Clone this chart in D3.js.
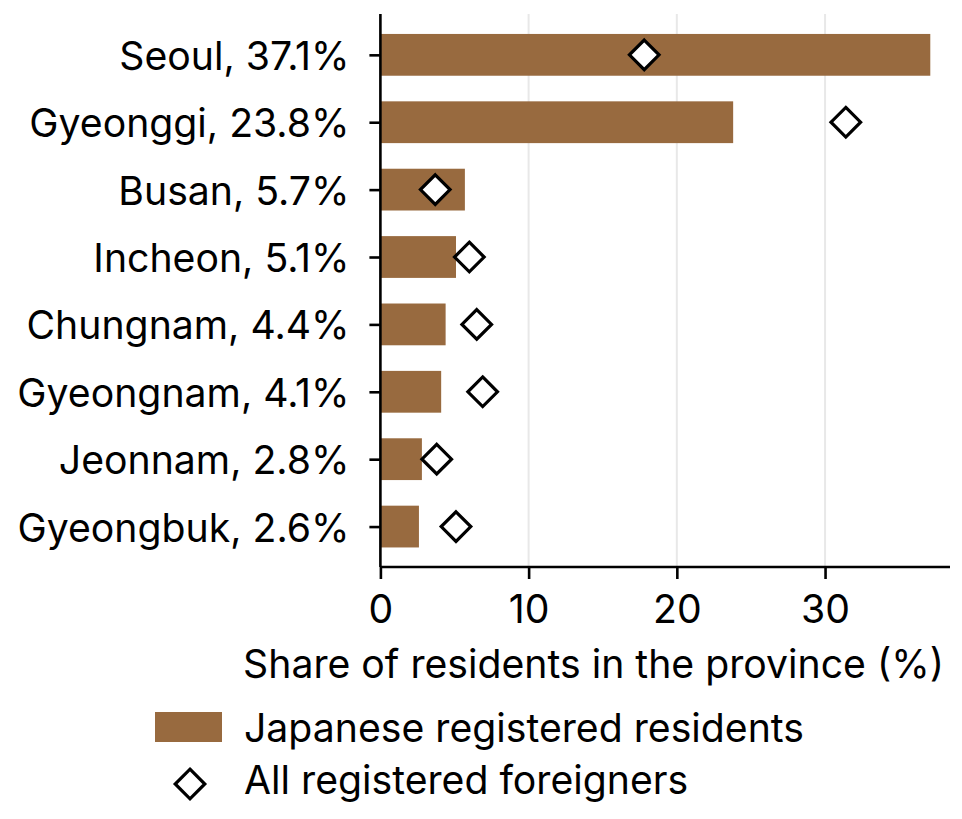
<!DOCTYPE html>
<html><head><meta charset="utf-8">
<script src="https://cdn.jsdelivr.net/npm/d3@7"></script>
<style>
html,body{margin:0;padding:0;background:#fff;}
svg{display:block;}
text{font-family:Inter, "Noto Sans", sans-serif;fill:#000;}
</style></head>
<body><svg id="c" width="962" height="819"></svg>
<script>
const provinces = ["Seoul","Gyeonggi","Busan","Incheon","Chungnam","Gyeongnam","Jeonnam","Gyeongbuk"];
const japaneseShare = [37.1, 23.8, 5.7, 5.1, 4.4, 4.1, 2.8, 2.6];
const foreignerShare = [17.8, 31.4, 3.7, 6.0, 6.5, 6.9, 3.8, 5.1];
const xTicks = [0, 10, 20, 30];
const xLabel = "Share of residents in the province (%)";
const legendLabels = ["Japanese registered residents", "All registered foreigners"];

const barColor = "#986a3f";
const fs = 39.2;
const svg = d3.select("#c");

const x = d3.scaleLinear().domain([0, 38.43]).range([380.4, 950]);
const y = d3.scaleLinear().domain([-0.606, 7.6]).range([14, 567]);
const step = y(1) - y(0);
const barH = step * 0.62;

// grid
svg.append("g").selectAll("line").data(xTicks.filter(d => d > 0)).join("line")
  .attr("x1", d => x(d)).attr("x2", d => x(d))
  .attr("y1", y(-0.606)).attr("y2", y(7.6))
  .attr("stroke", "#e8e8e8").attr("stroke-width", 2);

// bars
svg.append("g").selectAll("rect").data(japaneseShare).join("rect")
  .attr("x", x(0)).attr("y", (d, i) => y(i) - barH / 2)
  .attr("width", d => x(d) - x(0)).attr("height", barH)
  .attr("fill", barColor);

// diamonds
const dsize = 14.8;
const diamond = (cx, cy) => `M${cx},${cy - dsize}L${cx + dsize},${cy}L${cx},${cy + dsize}L${cx - dsize},${cy}Z`;
svg.append("g").selectAll("path").data(foreignerShare).join("path")
  .attr("d", (d, i) => diamond(x(d), y(i)))
  .attr("fill", "#fff").attr("stroke", "#000").attr("stroke-width", 3.2).attr("stroke-linejoin", "miter");

// x axis
const xAxis = d3.axisBottom(x).tickValues(xTicks).tickSize(12).tickFormat(d3.format("d"));
const gx = svg.append("g").attr("transform", `translate(0,${y(7.6)})`).call(xAxis);
gx.select(".domain").attr("stroke-width", 2.6).attr("d", `M${x(0)},0H${x(38.43)}`);
gx.selectAll(".tick line").attr("stroke-width", 2.6);
gx.selectAll(".tick text").attr("font-size", fs).attr("font-family", "Inter")
  .attr("y", 623 - y(7.6)).attr("dy", 0);

// y axis
const yAxis = d3.axisLeft(y).tickValues(d3.range(provinces.length)).tickSize(11).tickPadding(19)
  .tickFormat(i => `${provinces[i]}, ${japaneseShare[i].toFixed(1)}%`);
const gy = svg.append("g").attr("transform", `translate(${x(0)},0)`).call(yAxis);
gy.select(".domain").attr("stroke-width", 2.6).attr("d", `M0,${y(-0.606)}V${y(7.6)}`);
gy.selectAll(".tick line").attr("stroke-width", 2.6);
gy.selectAll(".tick text").attr("font-size", fs).attr("font-family", "Inter")
  .attr("x", 349.5 - x(0)).attr("dy", 14.5);

// x label
svg.append("text").attr("x", 944).attr("y", 678).attr("text-anchor", "end")
  .attr("font-size", fs).text(xLabel);

// legend
svg.append("rect").attr("x", 155).attr("y", 712).attr("width", 67).attr("height", 30).attr("fill", barColor);
svg.append("text").attr("x", 244).attr("y", 741.5).attr("font-size", fs).text(legendLabels[0]);
svg.append("path").attr("d", diamond(190, 784)).attr("fill", "#fff").attr("stroke", "#000").attr("stroke-width", 3.2);
svg.append("text").attr("x", 244).attr("y", 793.5).attr("font-size", fs).text(legendLabels[1]);
</script></body></html>
